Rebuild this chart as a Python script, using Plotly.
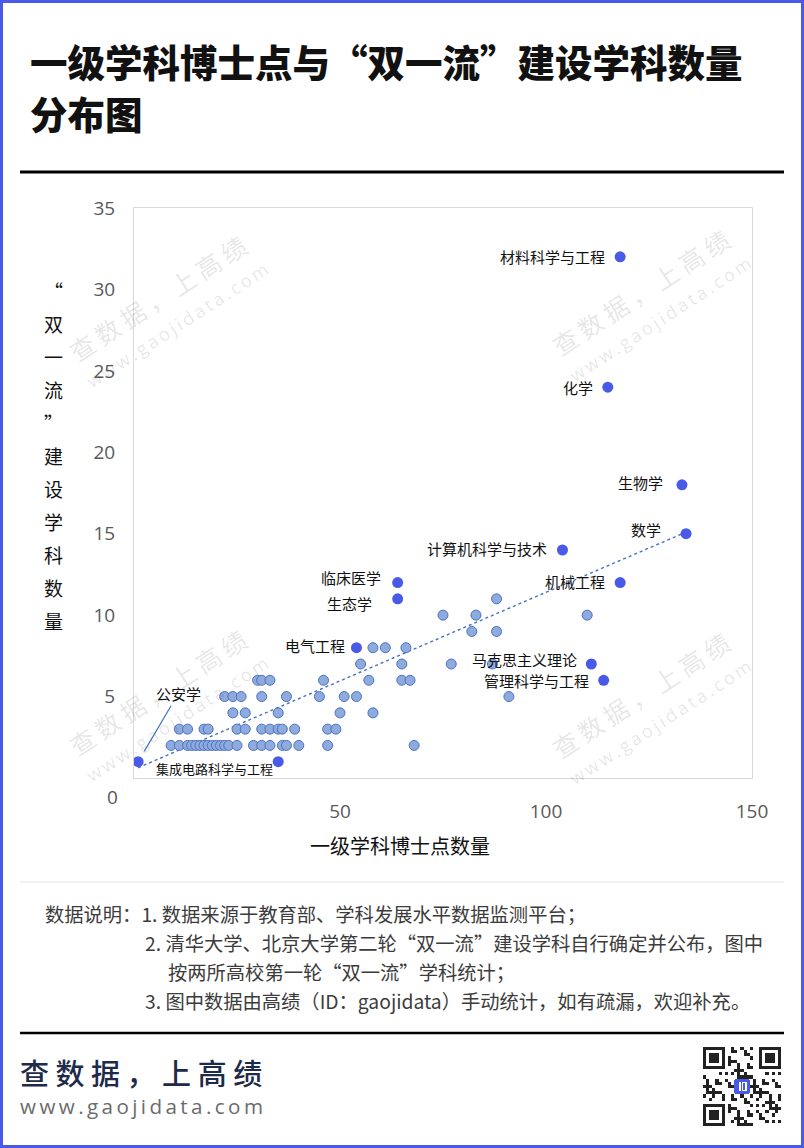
import base64
import plotly.graph_objects as go

# ---------------- data ----------------
# highlighted disciplines (named on the chart)
hl_names = ["材料科学与工程", "化学", "生物学", "数学", "计算机科学与技术", "机械工程",
            "临床医学", "生态学", "电气工程", "马克思主义理论", "管理科学与工程",
            "公安学", "集成电路科学与工程"]
hl_x = [118, 115, 133, 134, 104, 118, 64, 64, 54, 111, 114, 1, 35]
hl_y = [32, 24, 18, 15, 14, 12, 12, 11, 8, 7, 6, 1, 1]

# other disciplines, grouped by number of "双一流" disciplines (y)
rows_y = [2, 3, 4, 5, 6, 7, 8, 9, 10, 11]
rows_x = [
    [9, 11, 13, 14, 15, 16, 17, 18, 19, 20, 21, 22, 23, 25, 29, 31, 33, 36, 37, 40, 47, 68],
    [11, 13, 17, 18, 25, 27, 31, 33, 35, 36, 39, 47, 49],
    [24, 27, 35, 50, 58],
    [22, 24, 26, 31, 37, 45, 51, 54, 91],
    [30, 31, 33, 46, 57, 65, 67],
    [55, 65, 77, 87],
    [58, 61, 66],
    [82, 88],
    [75, 83, 110],
    [88],
]

# linear trend line endpoints
trend_x = [1, 134]
trend_y = [0.63, 15.1]

x_ticks = [50, 100, 150]
y_ticks = [5, 10, 15, 20, 25, 30, 35]

title_l1 = "一级学科博士点与“双一流”建设学科数量"
title_l2 = "分布图"
x_title = "一级学科博士点数量"
y_title_chars = ["“", "双", "一", "流", "”", "建", "设", "学", "科", "数", "量"]
notes = [
    "数据说明：1. 数据来源于教育部、学科发展水平数据监测平台；",
    "2. 清华大学、北京大学第二轮“双一流”建设学科自行确定并公布，图中",
    "按两所高校第一轮“双一流”学科统计；",
    "3. 图中数据由高绩（ID：gaojidata）手动统计，如有疏漏，欢迎补充。",
]
brand = "查数据，上高绩"
site = "www.gaojidata.com"

# ---------------- layout helpers ----------------
W, H = 804, 1148
L, R, T, B = 134, 752, 208, 778


def px(x):
    return (x - L) / (R - L)


def py(y):
    return (B - y) / (B - T)


light_x = [x for xs in rows_x for x in xs]
light_y = [y for y, xs in zip(rows_y, rows_x) for _ in xs]

CJK = "Noto Sans CJK SC"
NUM = "Open Sans, Noto Sans CJK SC"
HL = "#4a5ae8"

fig = go.Figure()
fig.add_trace(go.Scatter(
    x=trend_x, y=trend_y, mode="lines",
    line=dict(color="#4472c4", width=1.4, dash="dot"), hoverinfo="skip"))
fig.add_trace(go.Scatter(
    x=light_x, y=light_y, mode="markers",
    marker=dict(size=10, color="#8faadc", line=dict(color="#4a72c4", width=1))))
fig.add_trace(go.Scatter(
    x=hl_x, y=hl_y, mode="markers", text=hl_names,
    marker=dict(size=11, color=HL, line=dict(width=0))))

ann = []
# watermarks (drawn first, below other annotations)
wm_centers = [(157, 298), (640, 292), (157, 692), (640, 695)]
for cx, cy in wm_centers:
    ann.append(dict(x=px(cx), y=py(cy), xref="paper", yref="paper",
                    text="\u2009".join(brand), showarrow=False, textangle=-33,
                    xanchor="center", yanchor="middle",
                    font=dict(family=CJK, size=25, color="rgba(0,0,0,0.11)")))
    ann.append(dict(x=px(cx + 20), y=py(cy + 27), xref="paper", yref="paper",
                    text="\u2009".join(site), showarrow=False, textangle=-33,
                    xanchor="center", yanchor="middle",
                    font=dict(family=NUM, size=18, color="rgba(0,0,0,0.11)")))

# point labels: (xshift, yshift, size)
lab_style = {
    "材料科学与工程": (-13, 0, 15), "化学": (-13, 0, 15), "生物学": (-17, 2, 15),
    "数学": (-23, 4, 15), "计算机科学与技术": (-13, 2, 15), "机械工程": (-13, 1, 15),
    "临床医学": (-15, 5, 15), "生态学": (-24, -5, 15), "电气工程": (-9, 2, 15),
    "马克思主义理论": (-12, 5, 15), "管理科学与工程": (-13, 0, 15),
    "集成电路科学与工程": (-3, -7, 13),
}
for n, x, y in zip(hl_names, hl_x, hl_y):
    if n == "公安学":
        ann.append(dict(x=x, y=y, xref="x", yref="y", text=n, showarrow=True,
                        ax=40, ay=-68, arrowhead=0, arrowwidth=1.2,
                        arrowcolor="#4472c4", standoff=12,
                        font=dict(family=CJK, size=15, color="#111")))
        continue
    xs, ys, sz = lab_style[n]
    ann.append(dict(x=x, y=y, xref="x", yref="y", text=n, showarrow=False,
                    xanchor="right", yanchor="middle", xshift=xs, yshift=ys,
                    font=dict(family=CJK, size=sz, color="#111")))

# title
ann.append(dict(x=px(28), y=py(60), xref="paper", yref="paper", text=title_l1,
                showarrow=False, xanchor="left", yanchor="middle",
                font=dict(family=CJK, size=37.5, color="#111", weight=900)))
ann.append(dict(x=px(28), y=py(113), xref="paper", yref="paper", text=title_l2,
                showarrow=False, xanchor="left", yanchor="middle",
                font=dict(family=CJK, size=37.5, color="#111", weight=900)))

# y-axis title (stacked characters)
for i, ch in enumerate(y_title_chars):
    ann.append(dict(x=px(53), y=py(290 + 33 * i), xref="paper", yref="paper",
                    text=ch, showarrow=False, xanchor="center", yanchor="middle",
                    font=dict(family=CJK, size=19, color="#111")))

# x-axis title
ann.append(dict(x=px(400), y=py(845), xref="paper", yref="paper", text=x_title,
                showarrow=False, xanchor="center", yanchor="middle",
                font=dict(family=CJK, size=20, color="#111")))
# lone "0" label
ann.append(dict(x=px(112), y=py(797), xref="paper", yref="paper", text="0",
                showarrow=False, xanchor="center", yanchor="middle",
                font=dict(family=NUM, size=19, color="#595959")))

# notes
note_pos = [(43, 914), (143, 943), (166, 972), (143, 1001)]
for t, (nx, ny) in zip(notes, note_pos):
    ann.append(dict(x=px(nx), y=py(ny), xref="paper", yref="paper", text=t,
                    showarrow=False, xanchor="left", yanchor="middle",
                    font=dict(family=CJK, size=19.3, color="#3c3c3c")))

# footer brand
ann.append(dict(x=px(18), y=py(1072), xref="paper", yref="paper",
                text=" ".join(brand), showarrow=False, xanchor="left", yanchor="middle",
                font=dict(family=CJK, size=29, color="#1e2a4a", weight=500)))
ann.append(dict(x=px(18), y=py(1106), xref="paper", yref="paper",
                text="\u2009".join(site), showarrow=False, xanchor="left", yanchor="middle",
                font=dict(family=NUM, size=20.6, color="#6b6b6b")))

# shapes: page border and rules
shapes = [
    dict(type="rect", xref="paper", yref="paper", x0=px(1.5), x1=px(802.5),
         y0=py(1.5), y1=py(1146.5), line=dict(color=HL, width=3)),
    dict(type="line", xref="paper", yref="paper", x0=px(20), x1=px(784),
         y0=py(172), y1=py(172), line=dict(color="#000", width=3)),
    dict(type="line", xref="paper", yref="paper", x0=px(20), x1=px(784),
         y0=py(882), y1=py(882), line=dict(color="#e3e3e3", width=1)),
    dict(type="line", xref="paper", yref="paper", x0=px(20), x1=px(784),
         y0=py(1033), y1=py(1033), line=dict(color="#000", width=2.5)),
]

# decorative QR-like badge as inline SVG
N = 25
cells = []
def finder(ox, oy):
    out = []
    for i in range(7):
        for j in range(7):
            if i in (0, 6) or j in (0, 6) or (2 <= i <= 4 and 2 <= j <= 4):
                out.append((ox + i, oy + j))
    return out
fset = set(finder(0, 0) + finder(N - 7, 0) + finder(0, N - 7))
reserved = set()
for ox, oy in [(0, 0), (N - 8, 0), (0, N - 8)]:
    for i in range(8):
        for j in range(8):
            reserved.add((ox + i, oy + j))
for i in range(N):
    for j in range(N):
        if (i, j) in fset:
            cells.append((i, j))
        elif (i, j) not in reserved and ((i * 7 + j * 11 + (i * j) % 5) % 3 == 0):
            cells.append((i, j))
rects = "".join(f'<rect x="{i}" y="{j}" width="1" height="1"/>' for i, j in cells
                if not (10 <= i <= 14 and 10 <= j <= 14))
svg = (f'<svg xmlns="http://www.w3.org/2000/svg" viewBox="0 0 {N} {N}" shape-rendering="crispEdges">'
       f'<rect width="{N}" height="{N}" fill="white"/><g fill="#222">{rects}</g>'
       f'<rect x="10" y="10" width="5" height="5" rx="0.8" fill="{HL}"/>'
       f'<rect x="11.4" y="11.2" width="0.7" height="2.6" fill="white"/>'
       f'<rect x="12.6" y="11.2" width="1.2" height="2.6" fill="none" stroke="white" stroke-width="0.5"/>'
       f'</svg>')
src = "data:image/svg+xml;base64," + base64.b64encode(svg.encode()).decode()
images = [dict(source=src, xref="paper", yref="paper", x=px(703), y=py(1047),
               sizex=78 / (R - L), sizey=79 / (B - T), xanchor="left", yanchor="top",
               sizing="stretch", layer="above")]

fig.update_layout(
    width=W, height=H, autosize=False,
    margin=dict(l=L, r=W - R, t=T, b=H - B, pad=0),
    paper_bgcolor="white", plot_bgcolor="white",
    showlegend=False, hovermode="closest",
    annotations=ann, shapes=shapes, images=images,
    font=dict(family=NUM),
)
fig.update_xaxes(range=[0, 150], tickvals=x_ticks, showgrid=False, zeroline=False,
                 showline=True, linecolor="#d9d9d9", linewidth=1, mirror=True,
                 ticks="", ticklabelstandoff=16,
                 tickfont=dict(family=NUM, size=19, color="#595959"))
fig.update_yaxes(range=[0, 35], tickvals=y_ticks, showgrid=False, zeroline=False,
                 showline=True, linecolor="#d9d9d9", linewidth=1, mirror=True,
                 ticks="", ticklabelstandoff=14,
                 tickfont=dict(family=NUM, size=19, color="#595959"))

fig.write_html("out.html", config={"displayModeBar": False},
               post_script="document.body.style.margin='0';document.body.style.overflow='hidden';")
